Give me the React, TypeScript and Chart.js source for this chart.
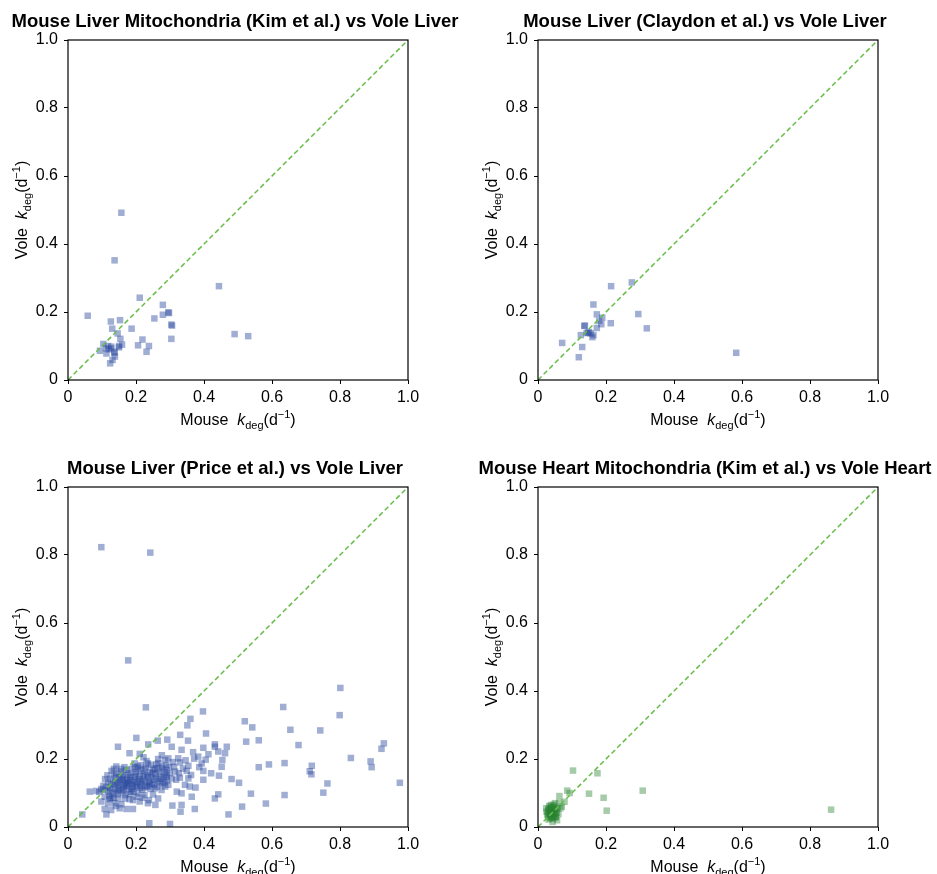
import React, { useEffect, useRef } from "react";
import { Chart, registerables } from "chart.js";

Chart.register(...registerables);

const FONT = '"Liberation Sans", Arial, Helvetica, sans-serif';

const titles = [
  "Mouse Liver Mitochondria (Kim et al.) vs Vole Liver",
  "Mouse Liver (Claydon et al.) vs Vole Liver",
  "Mouse Liver (Price et al.) vs Vole Liver",
  "Mouse Heart Mitochondria (Kim et al.) vs Vole Heart",
];

const tickValues = [0, 0.2, 0.4, 0.6, 0.8, 1.0];
const tickLabels = ["0", "0.2", "0.4", "0.6", "0.8", "1.0"];

// [mouse kdeg, vole kdeg]
const kimLiverPoints: [number, number][] = [
  [0.157, 0.492], [0.137, 0.352], [0.444, 0.276], [0.211, 0.242], [0.058, 0.189],
  [0.279, 0.221], [0.279, 0.192], [0.295, 0.199], [0.297, 0.197], [0.254, 0.181],
  [0.304, 0.163], [0.306, 0.160], [0.304, 0.121], [0.490, 0.135], [0.530, 0.129],
  [0.126, 0.172], [0.153, 0.176], [0.130, 0.151], [0.187, 0.151], [0.146, 0.137],
  [0.154, 0.121], [0.219, 0.119], [0.206, 0.102], [0.238, 0.100], [0.231, 0.083],
  [0.159, 0.104], [0.150, 0.096], [0.150, 0.100], [0.118, 0.100], [0.127, 0.098],
  [0.104, 0.106], [0.094, 0.086], [0.113, 0.078], [0.136, 0.080], [0.137, 0.083],
  [0.138, 0.069], [0.131, 0.059], [0.124, 0.049], [0.127, 0.093], [0.112, 0.093],
  [0.120, 0.090],
];

const claydonLiverPoints: [number, number][] = [
  [0.215, 0.276], [0.276, 0.287], [0.163, 0.222], [0.295, 0.194], [0.173, 0.193],
  [0.189, 0.183], [0.180, 0.174], [0.214, 0.167], [0.186, 0.164], [0.320, 0.152],
  [0.136, 0.159], [0.138, 0.160], [0.173, 0.153], [0.147, 0.139], [0.150, 0.141],
  [0.155, 0.137], [0.143, 0.138], [0.126, 0.132], [0.163, 0.132], [0.160, 0.126],
  [0.071, 0.109], [0.130, 0.097], [0.120, 0.067], [0.583, 0.080],
];

const priceLiverPoints: [number, number][] = [
  [0.098, 0.823], [0.242, 0.807], [0.177, 0.490],
  [0.801, 0.409], [0.633, 0.353], [0.799, 0.329], [0.520, 0.311], [0.542, 0.293],
  [0.654, 0.286], [0.742, 0.284], [0.524, 0.251], [0.561, 0.255], [0.678, 0.241],
  [0.929, 0.246], [0.922, 0.230], [0.832, 0.203], [0.890, 0.193], [0.893, 0.176],
  [0.561, 0.176], [0.591, 0.184], [0.637, 0.188], [0.717, 0.180], [0.711, 0.164],
  [0.716, 0.155], [0.503, 0.130], [0.763, 0.128], [0.976, 0.130], [0.538, 0.098],
  [0.637, 0.094], [0.751, 0.101], [0.512, 0.060], [0.582, 0.069],
  [0.229, 0.352], [0.397, 0.340], [0.360, 0.318], [0.351, 0.299], [0.201, 0.262],
  [0.330, 0.271], [0.353, 0.254], [0.406, 0.275], [0.264, 0.254], [0.292, 0.257],
  [0.236, 0.243], [0.432, 0.243], [0.239, 0.011], [0.300, 0.009],
  [0.147, 0.236], [0.181, 0.217], [0.211, 0.215], [0.222, 0.205], [0.265, 0.200],
  [0.286, 0.197], [0.196, 0.187], [0.235, 0.187], [0.260, 0.184], [0.135, 0.171],
  [0.155, 0.171], [0.172, 0.168], [0.206, 0.172], [0.225, 0.171], [0.250, 0.168],
  [0.279, 0.172], [0.142, 0.158], [0.162, 0.153], [0.181, 0.153], [0.201, 0.155],
  [0.225, 0.151], [0.245, 0.148], [0.270, 0.151], [0.289, 0.153], [0.157, 0.138],
  [0.176, 0.138], [0.196, 0.138], [0.216, 0.135], [0.240, 0.133], [0.265, 0.135],
  [0.284, 0.131], [0.127, 0.124], [0.147, 0.124], [0.172, 0.122], [0.191, 0.119],
  [0.211, 0.116], [0.235, 0.119], [0.255, 0.114], [0.275, 0.109], [0.064, 0.104],
  [0.083, 0.106], [0.103, 0.109], [0.123, 0.104], [0.142, 0.104], [0.162, 0.102],
  [0.186, 0.104], [0.206, 0.099], [0.225, 0.094], [0.250, 0.096], [0.265, 0.084],
  [0.108, 0.089], [0.127, 0.086], [0.147, 0.084], [0.167, 0.084], [0.191, 0.079],
  [0.211, 0.075], [0.235, 0.070], [0.257, 0.065], [0.098, 0.075], [0.118, 0.070],
  [0.137, 0.070], [0.157, 0.067], [0.108, 0.053], [0.127, 0.050], [0.152, 0.055],
  [0.172, 0.053], [0.191, 0.053], [0.113, 0.037], [0.042, 0.037],
  [0.305, 0.236], [0.334, 0.227], [0.368, 0.220], [0.398, 0.233], [0.432, 0.236],
  [0.442, 0.222], [0.462, 0.217], [0.467, 0.236], [0.295, 0.202], [0.324, 0.202],
  [0.329, 0.190], [0.383, 0.207], [0.413, 0.214], [0.454, 0.197], [0.393, 0.187],
  [0.354, 0.180], [0.290, 0.168], [0.315, 0.163], [0.349, 0.165], [0.398, 0.165],
  [0.452, 0.177], [0.290, 0.148], [0.305, 0.143], [0.329, 0.145], [0.354, 0.143],
  [0.398, 0.139], [0.444, 0.151], [0.481, 0.141], [0.295, 0.124], [0.344, 0.124],
  [0.358, 0.119], [0.375, 0.116], [0.320, 0.104], [0.334, 0.099], [0.364, 0.089],
  [0.442, 0.096], [0.432, 0.084], [0.307, 0.063], [0.334, 0.065], [0.373, 0.053],
  [0.331, 0.045], [0.472, 0.037],
  [0.112, 0.118], [0.118, 0.132], [0.125, 0.142], [0.131, 0.098], [0.138, 0.112],
  [0.144, 0.128], [0.151, 0.145], [0.158, 0.108], [0.163, 0.122], [0.169, 0.094],
  [0.174, 0.131], [0.179, 0.112], [0.184, 0.147], [0.188, 0.126], [0.193, 0.104],
  [0.198, 0.161], [0.203, 0.118], [0.208, 0.141], [0.213, 0.128], [0.218, 0.109],
  [0.222, 0.157], [0.227, 0.134], [0.232, 0.121], [0.236, 0.146], [0.241, 0.162],
  [0.246, 0.127], [0.252, 0.139], [0.257, 0.156], [0.262, 0.118], [0.268, 0.163],
  [0.273, 0.142], [0.278, 0.127], [0.284, 0.161], [0.291, 0.137], [0.297, 0.176],
  [0.104, 0.121], [0.098, 0.112], [0.092, 0.103], [0.121, 0.091], [0.134, 0.086],
  [0.147, 0.096], [0.156, 0.163], [0.166, 0.176], [0.177, 0.158], [0.187, 0.171],
  [0.196, 0.148], [0.205, 0.178], [0.215, 0.166], [0.229, 0.175], [0.244, 0.183],
  [0.255, 0.172], [0.266, 0.188], [0.276, 0.178], [0.288, 0.182], [0.142, 0.178],
  [0.128, 0.165], [0.116, 0.152], [0.109, 0.141], [0.181, 0.082], [0.201, 0.089],
  [0.219, 0.086], [0.238, 0.079], [0.171, 0.119], [0.161, 0.139], [0.151, 0.115],
  [0.141, 0.146],
  [0.118, 0.108], [0.124, 0.115], [0.133, 0.127], [0.139, 0.133], [0.146, 0.108],
  [0.153, 0.131], [0.159, 0.148], [0.166, 0.128], [0.172, 0.142], [0.178, 0.129],
  [0.183, 0.136], [0.189, 0.112], [0.194, 0.131], [0.199, 0.122], [0.204, 0.133],
  [0.211, 0.149], [0.216, 0.121], [0.221, 0.139], [0.226, 0.116], [0.233, 0.153],
  [0.239, 0.129], [0.243, 0.112], [0.249, 0.158], [0.253, 0.124], [0.259, 0.143],
  [0.263, 0.172], [0.271, 0.131], [0.281, 0.146], [0.286, 0.119], [0.299, 0.158],
  [0.312, 0.177], [0.318, 0.139], [0.326, 0.158], [0.338, 0.172], [0.346, 0.196],
  [0.362, 0.153], [0.371, 0.201], [0.386, 0.176], [0.405, 0.198], [0.421, 0.158],
  [0.136, 0.152], [0.123, 0.082], [0.141, 0.062], [0.163, 0.111], [0.182, 0.097],
  [0.197, 0.176], [0.214, 0.182], [0.231, 0.194], [0.276, 0.211], [0.308, 0.191],
];

const kimHeartPoints: [number, number][] = [
  [0.103, 0.166], [0.175, 0.158], [0.308, 0.107], [0.150, 0.098], [0.193, 0.086],
  [0.202, 0.048], [0.086, 0.107], [0.093, 0.100], [0.063, 0.091], [0.078, 0.074],
  [0.066, 0.055], [0.862, 0.051], [0.053, 0.030],
  [0.025, 0.045], [0.030, 0.050], [0.035, 0.040], [0.040, 0.055], [0.045, 0.035],
  [0.050, 0.048], [0.030, 0.030], [0.038, 0.028], [0.042, 0.045], [0.048, 0.060],
  [0.055, 0.042], [0.033, 0.062], [0.027, 0.035], [0.036, 0.052], [0.044, 0.025],
  [0.052, 0.030], [0.058, 0.055], [0.040, 0.038], [0.034, 0.045], [0.046, 0.050],
  [0.039, 0.065], [0.060, 0.038], [0.031, 0.022], [0.024, 0.055], [0.050, 0.070],
  [0.070, 0.060], [0.062, 0.072], [0.056, 0.020], [0.043, 0.015],
  [0.037, 0.047], [0.041, 0.051], [0.047, 0.042], [0.033, 0.038], [0.039, 0.033],
  [0.044, 0.058], [0.051, 0.039], [0.036, 0.060], [0.029, 0.043], [0.048, 0.027],
  [0.042, 0.032], [0.054, 0.052], [0.035, 0.026], [0.046, 0.065], [0.031, 0.054],
];

const BLUE = "rgba(45, 75, 160, 0.45)";
const GREEN = "rgba(40, 130, 50, 0.42)";
const DIAG = "rgb(102, 190, 72)";

const PANELS = [
  { title: titles[0], points: kimLiverPoints, color: BLUE, left: 0, top: 0 },
  { title: titles[1], points: claydonLiverPoints, color: BLUE, left: 470, top: 0 },
  { title: titles[2], points: priceLiverPoints, color: BLUE, left: 0, top: 447 },
  { title: titles[3], points: kimHeartPoints, color: GREEN, left: 470, top: 447 },
];

type Part = { t: string; font: string; dy?: number };

function drawRich(ctx: CanvasRenderingContext2D, parts: Part[], x: number, y: number) {
  let total = 0;
  const widths: number[] = [];
  for (const p of parts) {
    ctx.font = p.font;
    const w = ctx.measureText(p.t).width;
    widths.push(w);
    total += w;
  }
  let cx = x - total / 2;
  ctx.textAlign = "left";
  ctx.textBaseline = "alphabetic";
  parts.forEach((p, i) => {
    ctx.font = p.font;
    ctx.fillText(p.t, cx, y + (p.dy || 0));
    cx += widths[i];
  });
}

function axisParts(prefix: string): Part[] {
  return [
    { t: prefix + "  ", font: `16px ${FONT}` },
    { t: "k", font: `italic 16px ${FONT}` },
    { t: "deg", font: `11px ${FONT}`, dy: 4 },
    { t: "(d", font: `16px ${FONT}` },
    { t: "\u22121", font: `11px ${FONT}`, dy: -7 },
    { t: ")", font: `16px ${FONT}` },
  ];
}

function decor(title: string) {
  return {
    id: "decor",
    afterDraw(chart: any) {
      const ctx: CanvasRenderingContext2D = chart.ctx;
      const a = chart.chartArea;
      ctx.save();
      ctx.strokeStyle = "#000";
      ctx.lineWidth = 1.2;
      ctx.strokeRect(a.left, a.top, a.right - a.left, a.bottom - a.top);
      ctx.fillStyle = "#000";
      const cx = (a.left + a.right) / 2;
      const cy = (a.top + a.bottom) / 2;
      ctx.font = `bold 18.5px ${FONT}`;
      ctx.textAlign = "center";
      ctx.textBaseline = "alphabetic";
      ctx.fillText(title, cx - 3, a.top - 13);
      drawRich(ctx, axisParts("Mouse"), cx, a.bottom + 45);
      ctx.save();
      ctx.translate(a.left - 41, cy);
      ctx.rotate(-Math.PI / 2);
      drawRich(ctx, axisParts("Vole"), 0, 0);
      ctx.restore();
      ctx.restore();
    },
  };
}

function fmt(v: any) {
  const i = tickValues.findIndex((t) => Math.abs(t - Number(v)) < 1e-6);
  return i >= 0 ? tickLabels[i] : "";
}

function axis(kind: "x" | "y") {
  return {
    type: "linear",
    min: 0,
    max: 1,
    ticks: {
      stepSize: 0.2,
      color: "#000",
      font: { size: 16, family: FONT },
      padding: kind === "x" ? 4 : 6,
      maxRotation: 0,
      callback: fmt,
    },
    grid: {
      display: true,
      drawOnChartArea: false,
      drawTicks: true,
      tickLength: 4,
      color: "#000",
      lineWidth: 1,
    },
    border: { display: false },
    afterFit: (s: any) => {
      if (kind === "x") s.height = 57;
      else s.width = 68;
    },
  };
}

function makeConfig(p: (typeof PANELS)[number]): any {
  return {
    type: "scatter",
    data: {
      datasets: [
        {
          type: "line",
          data: [
            { x: 0, y: 0 },
            { x: 1, y: 1 },
          ],
          borderColor: DIAG,
          borderWidth: 1.5,
          borderDash: [5, 3],
          pointRadius: 0,
          showLine: true,
          fill: false,
        },
        {
          data: p.points.map(([x, y]) => ({ x, y })),
          pointStyle: "rect",
          pointRadius: 4.6,
          backgroundColor: p.color,
          borderWidth: 0,
        },
      ],
    },
    options: {
      responsive: false,
      animation: false,
      events: [],
      layout: { padding: { left: 0, top: 40, right: 60, bottom: 0 } },
      plugins: { legend: { display: false }, tooltip: { enabled: false } },
      scales: { x: axis("x"), y: axis("y") },
    },
    plugins: [decor(p.title)],
  };
}

export default function App() {
  const refs = useRef<(HTMLCanvasElement | null)[]>([]);
  useEffect(() => {
    const charts = PANELS.map((p, i) => new Chart(refs.current[i] as HTMLCanvasElement, makeConfig(p)));
    return () => charts.forEach((c) => c.destroy());
  }, []);
  return (
    <div
      style={{
        position: "absolute",
        left: 0,
        top: 0,
        width: 937,
        height: 874,
        overflow: "hidden",
        background: "#fff",
      }}
    >
      {PANELS.map((p, i) => (
        <canvas
          key={i}
          ref={(el) => {
            refs.current[i] = el;
          }}
          width={468}
          height={437}
          style={{ position: "absolute", left: p.left, top: p.top, width: 468, height: 437 }}
        />
      ))}
    </div>
  );
}
